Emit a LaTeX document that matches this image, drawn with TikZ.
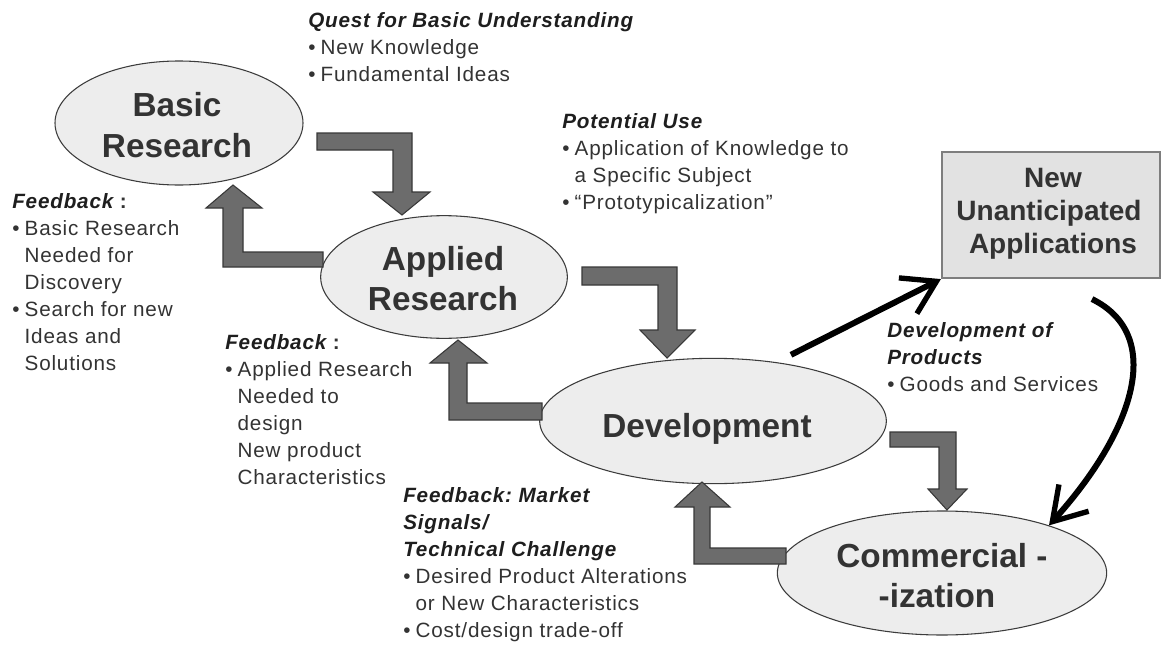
\documentclass[tikz,border=0pt]{standalone}
\usepackage{fontspec}
\setmainfont{Liberation Sans}
\newfontfamily\notefont[LetterSpace=4]{Liberation Sans}
\usetikzlibrary{shapes.geometric,arrows.meta,calc}
\definecolor{txt}{HTML}{333333}
\definecolor{head}{HTML}{1E1E1E}
\definecolor{efill}{HTML}{EDEDED}
\definecolor{edraw}{HTML}{3C3C3C}
\definecolor{bfill}{HTML}{E2E2E2}
\definecolor{bdraw}{HTML}{7E7E7E}
\definecolor{agray}{HTML}{6C6C6C}
\definecolor{adark}{HTML}{383838}
\newcommand\bul{•\hspace{0.25em}}
\newcommand\ind{\phantom{•}\hspace{0.25em}}
\newcommand\hd[1]{{\bfseries\itshape\color{head}#1}}
\frenchspacing
\begin{document}
\begin{tikzpicture}[x=0.75pt,y=-0.75pt,
  bubble/.style={ellipse,draw=edraw,fill=efill,line width=0.8pt,inner sep=0pt},
  big/.style={anchor=base,inner sep=0pt,text=txt,font=\fontsize{25}{30}\selectfont\bfseries},
  boxtxt/.style={anchor=base,inner sep=0pt,text=txt,font=\fontsize{21}{25}\selectfont\bfseries},
  appbox/.style={rectangle,draw=bdraw,fill=bfill,line width=1.6pt,inner sep=0pt},
  note/.style={anchor=north west,inner sep=0pt,align=left,text=txt,
    font=\notefont\fontsize{15.5}{20.25}\selectfont},
  garrow/.style={fill=agray,draw=adark,line width=0.8pt,line join=miter},
  bk/.style={draw=black,line width=4.5pt,-{Straight Barb[length=24pt,width=30pt,line width=4pt]}}
  ]
\useasboundingbox (0,0) rectangle (1164,646);
\fill[white] (0,0) rectangle (1164,646);

% ellipses and box
\node[bubble,minimum width=186pt,minimum height=93pt] (basic) at (179,123) {};
\node[bubble,minimum width=185pt,minimum height=92pt] (applied) at (444,277) {};
\node[bubble,minimum width=260pt,minimum height=94pt] (dev) at (713,421) {};
\node[bubble,minimum width=247pt,minimum height=93pt] (comm) at (942,573) {};
\node[appbox,minimum width=163.5pt,minimum height=94.5pt] (newapp) at (1051,215) {};

% texts in shapes
\node[big] (basic1) at (177,116) {Basic};
\node[big] (basic2) at (177,157) {Research};
\node[big] (applied1) at (443,270) {Applied};
\node[big] (applied2) at (443,310) {Research};
\node[big] (dev1) at (707,437) {Development};
\node[big] (comm1) at (942,567) {Commercial -};
\node[big] (comm2) at (937,607) {-ization};
\node[boxtxt] (new1) at (1053,187) {New};
\node[boxtxt] (new2) at (1049,220) {Unanticipated};
\node[boxtxt] (new3) at (1053,253) {Applications};

% grey block arrows (forward)
\draw[garrow] (317,133) -- (412,133) -- (412,192) -- (430,192) -- (402,215) -- (373,192)
  -- (393,192) -- (393,150) -- (317,150) -- cycle;
\draw[garrow] (582,267) -- (677,267) -- (677,330) -- (695,330) -- (667,358) -- (640,330)
  -- (658,330) -- (658,285) -- (582,285) -- cycle;
\draw[garrow] (890,432) -- (956,432) -- (956,489) -- (967,489) -- (947,510) -- (928,489)
  -- (939,489) -- (939,447) -- (890,447) -- cycle;
% grey block arrows (feedback)
\draw[garrow] (323,252) -- (243,252) -- (243,208) -- (262,208) -- (233,185)
  -- (206,208) -- (223,208) -- (223,267) -- (323,267) -- cycle;
\draw[garrow] (542,403) -- (467,403) -- (467,363) -- (487,363) -- (458,340) -- (430,363)
  -- (449,363) -- (449,420) -- (542,420) -- cycle;
\draw[garrow] (786,548) -- (710,548) -- (710,507) -- (730,507) -- (702,482) -- (675,507)
  -- (694,507) -- (694,564) -- (786,564) -- cycle;

% black arrows
\draw[bk] ($(dev.north)+(78,-3)$) -- (newapp.south west);
\draw[bk] ($(newapp.south)+(41,20)$) .. controls (1165,335) and (1135,430) .. (comm.24);

% notes
\node[note] (quest) at (308,12) {\hd{Quest for Basic Understanding}\\
  \bul New Knowledge\\
  \bul Fundamental Ideas};
\node[note] (potential) at (562,113) {\hd{Potential Use}\\
  \bul Application of Knowledge to\\
  \ind a Specific Subject\\
  \bul “Prototypicalization”};
\node[note] (fb1) at (12,193) {\hd{Feedback} \textbf{:}\\
  \bul Basic Research\\
  \ind Needed for\\
  \ind Discovery\\
  \bul Search for new\\
  \ind Ideas and\\
  \ind Solutions};
\node[note] (fb2) at (225,334) {\hd{Feedback} \textbf{:}\\
  \bul Applied Research\\
  \ind Needed to\\
  \ind design\\
  \ind New product\\
  \ind Characteristics};
\node[note] (devprod) at (887,322) {\hd{Development of}\\
  \hd{Products}\\
  \bul Goods and Services};
\node[note] (fb3) at (403,487) {\hd{Feedback: Market}\\
  \hd{Signals/}\\
  \hd{Technical Challenge}\\
  \bul Desired Product Alterations\\
  \ind or New Characteristics\\
  \bul Cost/design trade-off};
\end{tikzpicture}
\end{document}
